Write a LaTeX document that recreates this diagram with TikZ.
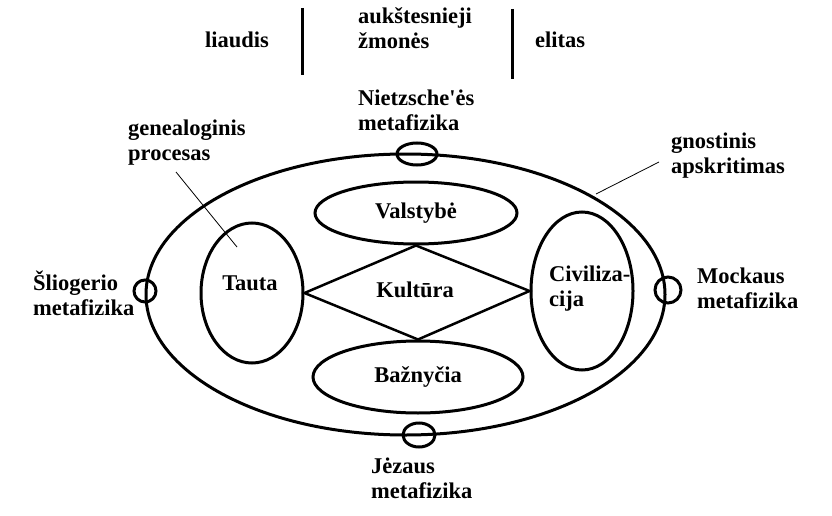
\documentclass[tikz,border=0pt]{standalone}
\usepackage{fontspec}
\setmainfont{Liberation Serif}
\usetikzlibrary{shapes.geometric}

\begin{document}
\begin{tikzpicture}[x=1pt,y=-1pt]
  \tikzset{oval/.style={draw, ellipse, line width=3pt, inner sep=0pt},
    lbl/.style={font=\fontsize{22.5}{25}\selectfont\bfseries, align=left, inner sep=0pt},
    leader/.style={line width=0.8pt}}
  \useasboundingbox (0,0) rectangle (832,516);
  \node[lbl] (liaudis) at (237,40) {liaudis};
  \node[lbl, anchor=west] (aukst) at (358,28) {aukštesnieji\\žmonės};
  \node[lbl, anchor=west] (elitas) at (535,40) {elitas};
  \coordinate (sepAtop) at (302,8);  \coordinate (sepAbot) at (302,75);
  \coordinate (sepBtop) at (512,9);  \coordinate (sepBbot) at (512,79);
  \draw[line width=3pt] (sepAtop) -- (sepAbot);
  \draw[line width=3pt] (sepBtop) -- (sepBbot);
  \node[oval, minimum width=519pt, minimum height=281pt] (gnost) at (405.5,294.5) {};
  \node[oval, minimum width=40pt, minimum height=22pt] (nietzscheO) at (417,154) {};
  \node[oval, minimum width=32pt, minimum height=24pt] (jezausO) at (419,435) {};
  \node[oval, minimum width=22pt, minimum height=22pt] (sliogO) at (145,291) {};
  \node[oval, minimum width=26pt, minimum height=26pt] (mockO) at (668,290) {};
  \node[oval, minimum width=202pt, minimum height=62pt, font=\fontsize{22.5}{25}\selectfont\bfseries] (valst) at (416,213) {Valstybė};
  \node[oval, minimum width=210pt, minimum height=72pt, font=\fontsize{22.5}{25}\selectfont\bfseries] (baz) at (418,377) {Bažnyčia};
  \node[oval, minimum width=102pt, minimum height=140pt] (tauta) at (252,293) {};
  \node[oval, minimum width=102pt, minimum height=158pt] (civ) at (582,291) {};
  \node[lbl] (tautaT) at (250,283) {Tauta};
  \node[lbl, anchor=west] (civT) at (549,289) {Civiliza-\\cija};
  \node[lbl] (kult) at (415,290) {Kultūra};
  \draw[line width=2.5pt, line join=miter] (tauta.east) -- (valst.south) -- (civ.west) -- (baz.north) -- cycle;
  \node[lbl, anchor=west] (nietzsche) at (358,110) {Nietzsche\textquotesingle ės\\metafizika};
  \node[lbl, anchor=west] (geneal) at (128,143) {genealoginis\\procesas};
  \node[lbl, anchor=west] (gnostT) at (671,156) {gnostinis\\apskritimas};
  \node[lbl, anchor=west] (sliog) at (33,293) {Šliogerio\\metafizika};
  \node[lbl, anchor=west] (mock) at (697,288) {Mockaus\\metafizika};
  \node[lbl, anchor=west] (jezaus) at (371,478) {Jėzaus\\metafizika};
  \coordinate (genA) at (176,172); \coordinate (genB) at (237,247);
  \coordinate (gnoA) at (659,162); \coordinate (gnoB) at (596,194);
  \draw[leader] (genA) -- (genB);
  \draw[leader] (gnoA) -- (gnoB);
\end{tikzpicture}
\end{document}
